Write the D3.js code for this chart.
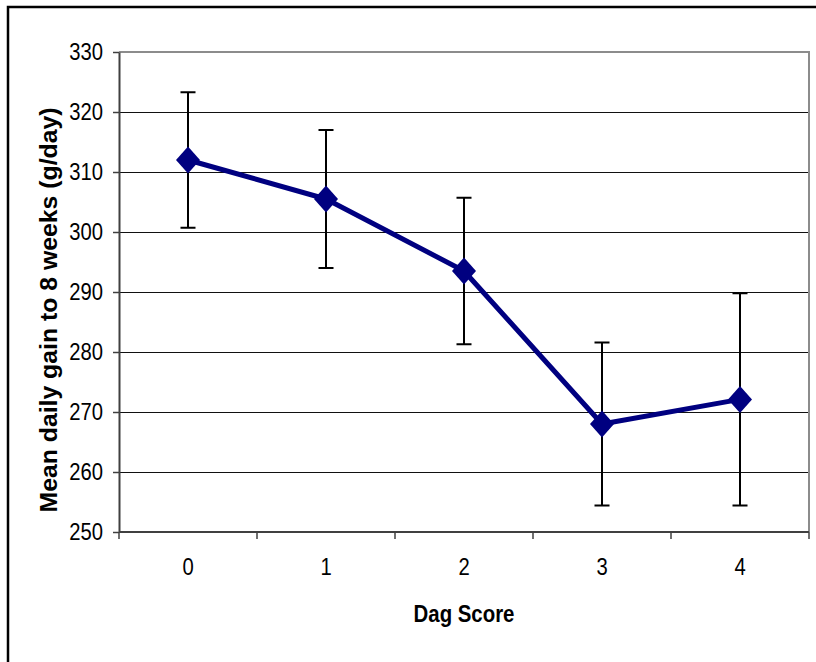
<!DOCTYPE html>
<html>
<head>
<meta charset="utf-8">
<script src="https://cdn.jsdelivr.net/npm/d3@7"></script>
<style>
  html, body { margin: 0; padding: 0; background: #fff; }
  svg { display: block; }
  text { font-family: "Liberation Sans", Arial, sans-serif; fill: #000; }
</style>
</head>
<body>
<svg id="chart" width="816" height="662"></svg>
<script>
// Dag score categories and mean daily gain (g/day) with standard errors
const categories = ["0", "1", "2", "3", "4"];
const meanGain = [312, 305.5, 293.5, 268, 272.1];
const stdError = [11.3, 11.5, 12.2, 13.6, 17.7];
const yTicks = [250, 260, 270, 280, 290, 300, 310, 320, 330];
const xTitle = "Dag Score";
const yTitle = "Mean daily gain to 8 weeks (g/day)";

const svg = d3.select("#chart");
const plot = { left: 119, right: 809, top: 52, bottom: 532 };

const x = d3.scaleBand().domain(categories).range([plot.left, plot.right]).paddingInner(0).paddingOuter(0);
const y = d3.scaleLinear().domain([250, 330]).range([plot.bottom, plot.top]);

// outer frame (runs off the right and bottom edges)
svg.append("rect")
  .attr("x", 8).attr("y", 7).attr("width", 840).attr("height", 700)
  .attr("fill", "none").attr("stroke", "#000").attr("stroke-width", 2.5);

// horizontal gridlines
svg.append("g").selectAll("line")
  .data(yTicks.filter(t => t > 250 && t < 330))
  .join("line")
  .attr("x1", plot.left).attr("x2", plot.right)
  .attr("y1", d => Math.round(y(d)) + 0.5).attr("y2", d => Math.round(y(d)) + 0.5)
  .attr("stroke", "#111").attr("stroke-width", 1);

// plot area top and right borders
svg.append("path")
  .attr("d", `M${plot.left},${plot.top} H${plot.right} V${plot.bottom}`)
  .attr("fill", "none").attr("stroke", "#8c8c8c").attr("stroke-width", 2);

// y axis
const yAxis = d3.axisLeft(y).tickValues(yTicks).tickSize(6).tickPadding(0).tickSizeOuter(0);
const gy = svg.append("g").attr("transform", `translate(${plot.left},0)`).call(yAxis);
gy.select(".domain").attr("stroke", "#404040").attr("stroke-width", 2);
gy.selectAll(".tick line").attr("stroke", "#404040").attr("stroke-width", 1.5);
gy.selectAll(".tick text")
  .attr("x", null).attr("dy", null)
  .attr("font-size", 23)
  .attr("dominant-baseline", "central")
  .attr("text-anchor", "end")
  .attr("transform", "translate(-16,0) scale(0.88,1)");

// x axis with ticks on category boundaries
const gx = svg.append("g").attr("transform", `translate(0,${plot.bottom})`);
gx.append("line")
  .attr("x1", plot.left).attr("x2", plot.right)
  .attr("stroke", "#404040").attr("stroke-width", 2);
const boundaries = categories.map(c => x(c)).concat([x(categories[categories.length - 1]) + x.bandwidth()]);
gx.selectAll("line.tk").data(boundaries).join("line")
  .attr("class", "tk")
  .attr("x1", d => d).attr("x2", d => d)
  .attr("y1", 0).attr("y2", 7)
  .attr("stroke", "#404040").attr("stroke-width", 1.5);
gx.selectAll("text").data(categories).join("text")
  .attr("transform", d => `translate(${x(d) + x.bandwidth() / 2},43) scale(0.88,1)`)
  .attr("text-anchor", "middle")
  .attr("font-size", 23)
  .text(d => d);

// axis titles
svg.append("text")
  .attr("transform", `translate(${(plot.left + plot.right) / 2},622) scale(0.85,1)`)
  .attr("text-anchor", "middle")
  .attr("font-size", 24)
  .attr("font-weight", "bold")
  .text(xTitle);

svg.append("text")
  .attr("transform", "translate(57,310) rotate(-90)")
  .attr("text-anchor", "middle")
  .attr("font-size", 23)
  .attr("font-weight", "bold")
  .attr("textLength", 405)
  .attr("lengthAdjust", "spacingAndGlyphs")
  .text(yTitle);

const data = categories.map((c, i) => ({ c, m: meanGain[i], e: stdError[i] }));
const cx = d => x(d.c) + x.bandwidth() / 2;

// error bars
const eb = svg.append("g").attr("stroke", "#000").attr("stroke-width", 2).attr("fill", "none");
eb.selectAll("path").data(data).join("path")
  .attr("d", d => {
    const x0 = cx(d), top = y(d.m + d.e), bot = y(d.m - d.e);
    return `M${x0},${top} V${bot} M${x0 - 7.5},${top} H${x0 + 7.5} M${x0 - 7.5},${bot} H${x0 + 7.5}`;
  });

// mean line
svg.append("path")
  .datum(data)
  .attr("d", d3.line().x(cx).y(d => y(d.m)))
  .attr("fill", "none").attr("stroke", "#000080").attr("stroke-width", 5)
  .attr("stroke-linejoin", "round");

// diamond markers
svg.append("g").selectAll("path").data(data).join("path")
  .attr("d", d => {
    const x0 = cx(d), y0 = y(d.m), hw = 12, hh = 13.5;
    return `M${x0},${y0 - hh} L${x0 + hw},${y0} L${x0},${y0 + hh} L${x0 - hw},${y0} Z`;
  })
  .attr("fill", "#000080");
</script>
</body>
</html>
